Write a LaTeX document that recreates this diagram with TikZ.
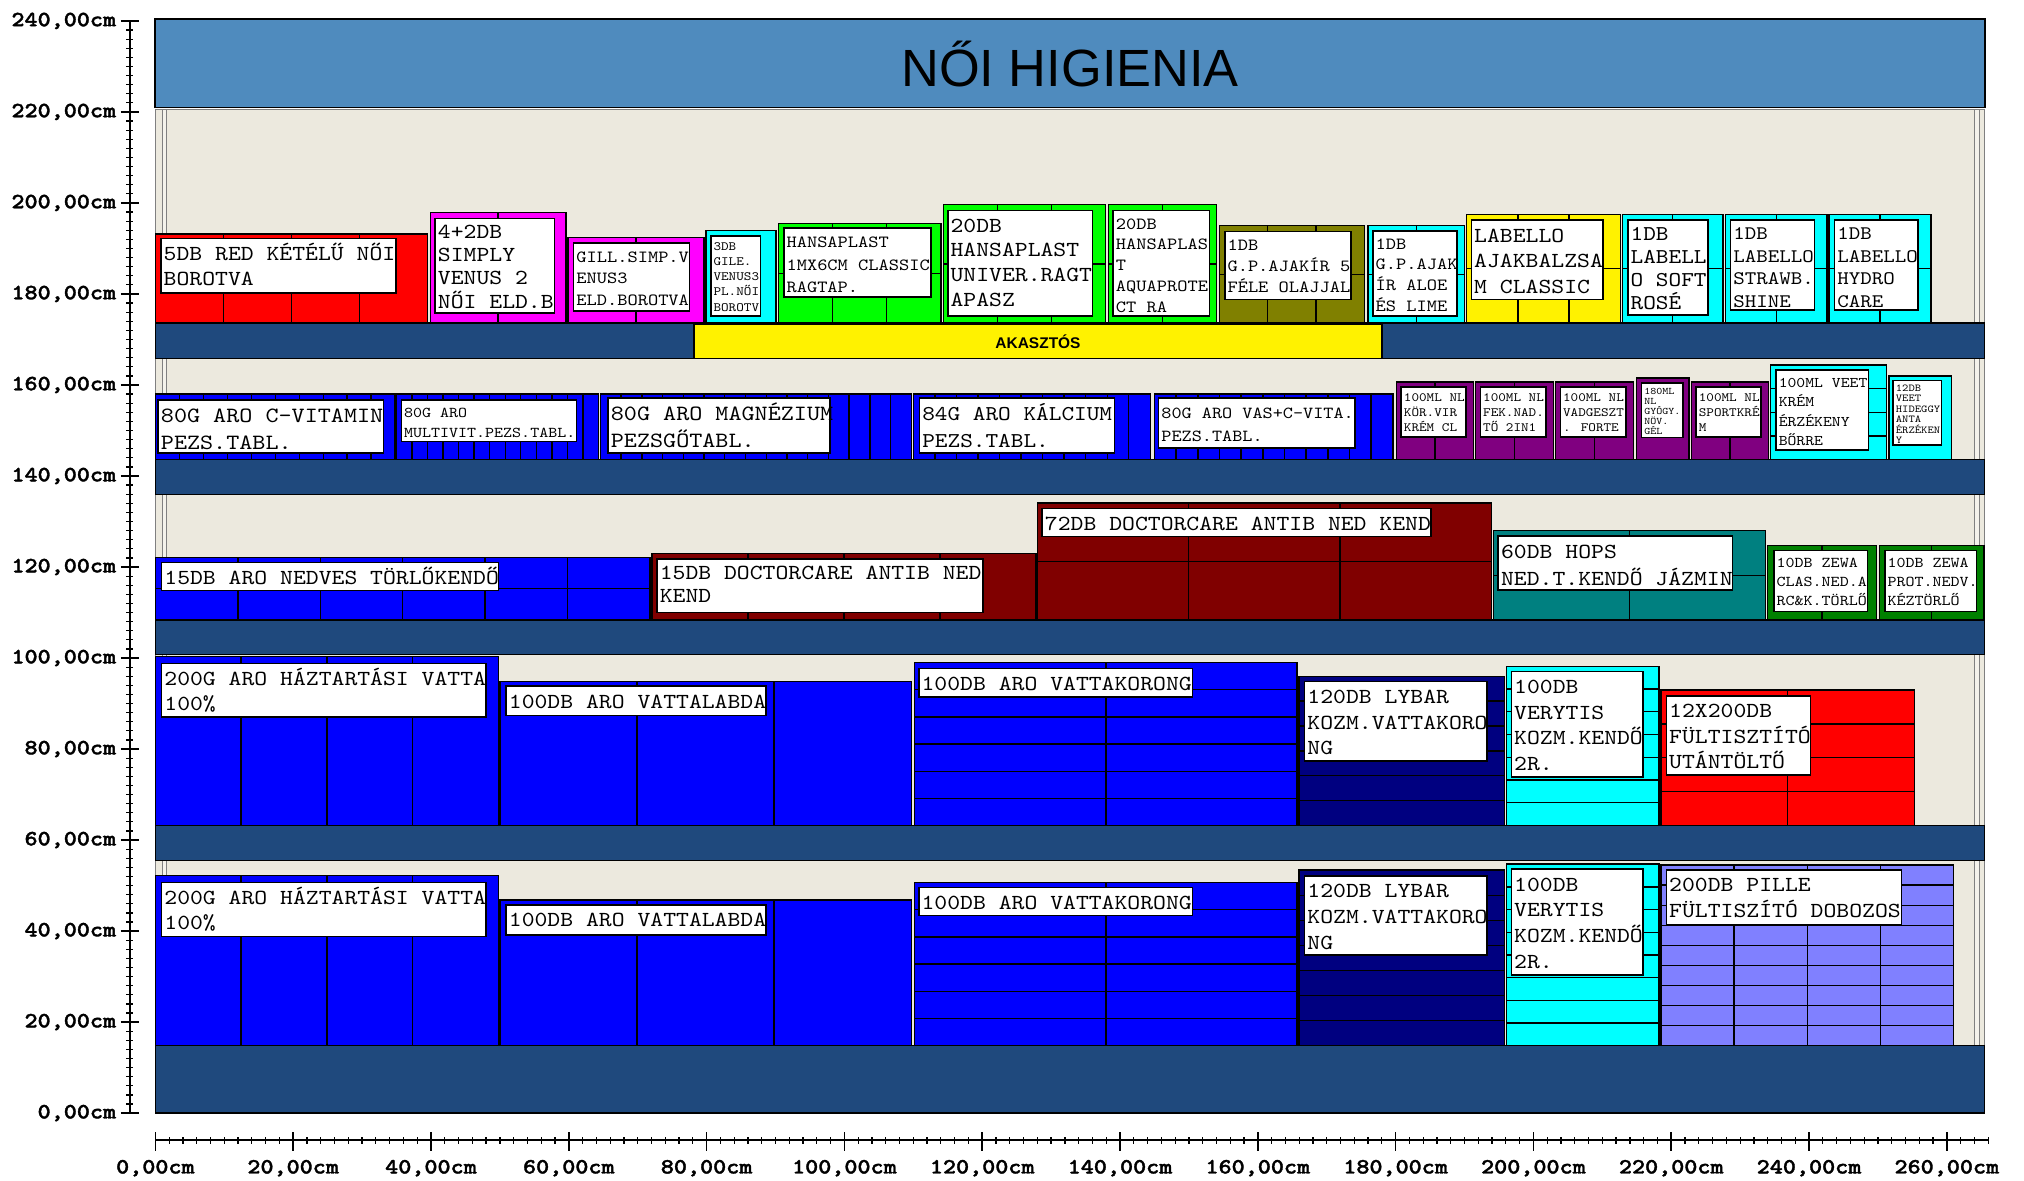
\documentclass[tikz,border=0pt]{standalone}
\usepackage{fontspec}
\usepackage{tikz}

\newfontfamily\lblfont{lmmono10-regular}[Extension=.otf, FakeStretch=1.1429]
\newfontfamily\axfont{lmmonolt10-bold}[Extension=.otf, FakeStretch=1.1429, FakeBold=1.6]
\newfontfamily\sansfont{Liberation Sans}

\definecolor{backboard}{RGB}{236,233,222}
\definecolor{headerblue}{RGB}{79,139,190}
\definecolor{shelfblue}{RGB}{31,73,125}
\definecolor{cyanbox}{RGB}{0,255,255}
\definecolor{magentabox}{RGB}{255,0,255}
\definecolor{olivebox}{RGB}{128,128,0}
\definecolor{maroonbox}{RGB}{128,0,0}
\definecolor{tealbox}{RGB}{0,128,128}
\definecolor{dkgreen}{RGB}{0,128,0}
\definecolor{navybox}{RGB}{0,0,128}
\definecolor{lavender}{RGB}{128,128,255}
\definecolor{purplebox}{RGB}{128,0,128}

% x0, x1, top, base, columns, rows, colour
\newcommand\prodblock[7]{%
  \filldraw[facing, fill=#7] (#1,#4) rectangle (#2,#3);
  \ifnum#5>1
    \foreach \i in {2,...,#5}{\draw[facing] ({#1+(\i-1)*(#2-#1)/#5},#4) -- ({#1+(\i-1)*(#2-#1)/#5},#3);}
  \fi
  \ifnum#6>1
    \foreach \j in {2,...,#6}{\draw[facing] (#1,{#4+(\j-1)*(#3-#4)/#6}) -- (#2,{#4+(\j-1)*(#3-#4)/#6});}
  \fi
}
% name, x0, y0, x1, y1, size, skip, text
\newcommand\prodlabel[8]{%
  \draw[labelbox] (#2,#3) rectangle (#4,#5);
  \node[labeltext, font={\lblfont\fontsize{#6}{#7}\selectfont\lineskiplimit=-10pt}] (#1) at (#2,#5) {\strut #8};
}

\begin{document}
\begin{tikzpicture}[x=0.0689cm, y=0.0455cm,
  facing/.style={draw=black, line width=0.4pt},
  shelf/.style={fill=shelfblue, draw=black, line width=0.4pt},
  upright/.style={fill=backboard!60!white, draw=gray, line width=0.3pt},
  labelbox/.style={fill=white, draw=black, line width=0.45pt},
  labeltext/.style={anchor=north west, inner sep=0pt, xshift=0.6pt, yshift=-0.9pt, align=left},
  axlabel/.style={font=\axfont\fontsize{6.2}{7}\selectfont, inner sep=0pt}]
        \useasboundingbox (-22.55,-14.73) rectangle (271.2,244.6);

        % Gondola
        \filldraw[fill=backboard, draw=gray] (0,14.8) rectangle (265.5,220.5);
        \filldraw[upright] (1,14.8) rectangle (1.6,220.5);
        \filldraw[upright] (264,14.8) rectangle (264.7,220.5);
        \filldraw[fill=headerblue, draw=black, line width=0.5pt] (0,221) rectangle (265.5,240.4);
        \node[font=\sansfont\fontsize{14.9}{16}\selectfont] (title) at (132.75,230.6) {NŐI HIGIENIA};

        % Shelves
        \foreach \lo/\hi in {165.8/173.6, 136/143.6, 100.8/108.4, 55.5/63.2, 0/14.8}{
        \filldraw[shelf] (0,\lo) rectangle (265.5,\hi);
        }
        \filldraw[fill=yellow, draw=black, line width=0.4pt] (78.2,165.8) rectangle (178,173.4);
        \node[font=\sansfont\bfseries\fontsize{4.4}{5}\selectfont] (akasztos) at (128.1,169.5) {AKASZTÓS};

        % Shelf 1
        \prodblock{0}{39.5}{193.2}{173.6}{4}{1}{red}
        \prodblock{39.9}{59.6}{197.9}{173.6}{2}{1}{magentabox}
        \prodblock{59.9}{79.6}{192.4}{173.6}{2}{1}{magentabox}
        \prodblock{79.9}{90.1}{193.9}{173.6}{1}{1}{cyanbox}
        \prodblock{90.4}{114}{195.5}{173.6}{3}{2}{green}
        \prodblock{114.4}{137.9}{199.6}{173.6}{3}{2}{green}
        \prodblock{138.3}{154}{199.6}{173.6}{2}{2}{green}
        \prodblock{154.4}{175.5}{195}{173.6}{3}{2}{olivebox}
        \prodblock{176}{190}{195}{173.6}{2}{2}{cyanbox}
        \prodblock{190.3}{212.6}{197.5}{173.6}{3}{2}{yellow}
        \prodblock{212.9}{227.5}{197.5}{173.6}{2}{2}{cyanbox}
        \prodblock{227.9}{242.6}{197.5}{173.6}{2}{2}{cyanbox}
        \prodblock{242.9}{257.7}{197.5}{173.6}{2}{2}{cyanbox}
        \prodlabel{redblade}{0.8}{180.2}{34.9}{192.2}{6.1}{7.3}{5DB RED KÉTÉLŰ NŐI\\BOROTVA}
        \prodlabel{venus}{40.6}{175.8}{57.9}{196.6}{6.1}{6.6}{4+2DB\\SIMPLY\\VENUS 2\\NŐI ELD.B}
        \prodlabel{gillsimp}{60.7}{176.2}{77.5}{191.2}{4.85}{6.2}{GILL.SIMP.V\\ENUS3\\ELD.BOROTVA}
        \prodlabel{gillvenus}{80.6}{175.2}{87.8}{192.7}{3.6}{4.3}{3DB\\GILE.\\VENUS3\\PL.NŐI\\BOROTV}
        \prodlabel{hansaclassic}{91.2}{179.4}{112.6}{194.5}{4.85}{6.4}{HANSAPLAST\\1MX6CM CLASSIC\\RAGTAP.}
        \prodlabel{hansauniver}{115}{175.2}{136}{198.3}{6.1}{7.1}{20DB\\HANSAPLAST\\UNIVER.RAGT\\APASZ}
        \prodlabel{hansaaqua}{139}{175.2}{153}{198.3}{4.85}{5.9}{20DB\\HANSAPLAS\\T\\AQUAPROTE\\CT RA}
        \prodlabel{gpolaj}{155.2}{178.8}{173.5}{193.7}{4.85}{6.0}{1DB\\G.P.AJAKÍR 5\\FÉLE OLAJJAL}
        \prodlabel{gpaloe}{176.7}{175.2}{188.9}{193.9}{4.85}{5.9}{1DB\\G.P.AJAK\\ÍR ALOE\\ÉS LIME}
        \prodlabel{labclassic}{191}{178.8}{210.1}{196.2}{6.1}{7.3}{LABELLO\\AJAKBALZSA\\M CLASSIC}
        \prodlabel{labrose}{213.7}{175.4}{225.3}{196.2}{6.0}{6.6}{1DB\\LABELL\\O SOFT\\ROSÉ}
        \prodlabel{labstraw}{228.6}{176.5}{240.8}{196.2}{5.45}{6.4}{1DB\\LABELLO\\STRAWB.\\SHINE}
        \prodlabel{labhydro}{243.7}{176.5}{255.8}{196.2}{5.45}{6.4}{1DB\\LABELLO\\HYDRO\\CARE}

        % Shelf 2
        \prodblock{0}{34.8}{158}{143.6}{10}{1}{blue}
        \prodblock{35}{64.3}{158}{143.6}{13}{1}{blue}
        \prodblock{64.6}{109.7}{158}{143.6}{15}{1}{blue}
        \prodblock{110}{144.4}{158}{143.6}{11}{1}{blue}
        \prodblock{145}{179.6}{158}{143.6}{11}{1}{blue}
        \prodblock{180.1}{191.3}{160.7}{143.6}{2}{1}{purplebox}
        \prodblock{191.6}{202.9}{160.7}{143.6}{2}{1}{purplebox}
        \prodblock{203.2}{214.5}{160.7}{143.6}{2}{1}{purplebox}
        \prodblock{215}{222.6}{161.5}{143.6}{1}{1}{purplebox}
        \prodblock{222.9}{234.1}{160.7}{143.6}{2}{1}{purplebox}
        \prodblock{234.4}{251.2}{164.4}{143.6}{1}{4}{cyanbox}
        \prodblock{251.6}{260.7}{162}{143.6}{1}{1}{cyanbox}
        \prodlabel{cvit}{0.4}{145}{33.1}{156.7}{6.2}{7.6}{80G ARO C-VITAMIN\\PEZS.TABL.}
        \prodlabel{multivit}{35.7}{147.6}{61.1}{156.7}{4.27}{5.7}{80G ARO\\MULTIVIT.PEZS.TABL.}
        \prodlabel{magnez}{65.7}{145}{97.9}{157.1}{6.2}{7.6}{80G ARO MAGNÉZIUM\\PEZSGŐTABL.}
        \prodlabel{kalcium}{110.9}{145}{139.2}{157.1}{6.0}{7.6}{84G ARO KÁLCIUM\\PEZS.TABL.}
        \prodlabel{vasc}{145.6}{146.1}{174.1}{157.1}{4.8}{6.6}{80G ARO VAS+C-VITA.\\PEZS.TABL.}
        \prodlabel{nlkor}{180.8}{148.6}{190.2}{159.5}{3.6}{4.3}{100ML NL\\KÖR.VIR\\KRÉM CL}
        \prodlabel{nlfek}{192.3}{148.6}{201.8}{159.5}{3.6}{4.3}{100ML NL\\FEK.NAD.\\TŐ 2IN1}
        \prodlabel{nlvad}{203.9}{148.6}{213.4}{159.5}{3.6}{4.3}{100ML NL\\VADGESZT\\. FORTE}
        \prodlabel{nlgyogy}{215.7}{148.5}{221.7}{160.4}{2.85}{2.85}{180ML\\NL\\GYÓGY.\\NÖV.\\GÉL}
        \prodlabel{nlsport}{223.6}{148.6}{233}{159.5}{3.6}{4.3}{100ML NL\\SPORTKRÉ\\M}
        \prodlabel{veetkrem}{235.2}{145.7}{248.6}{163.3}{4.2}{5.5}{100ML VEET\\KRÉM\\ÉRZÉKENY\\BŐRRE}
        \prodlabel{veetgyanta}{252.2}{146.8}{259.2}{161}{3.0}{2.95}{12DB\\VEET\\HIDEGGY\\ANTA\\ÉRZÉKEN\\Y}

        % Shelf 3
        \prodblock{0}{71.8}{122.1}{108.4}{6}{2}{blue}
        \prodblock{72.1}{127.8}{123}{108.4}{4}{1}{maroonbox}
        \prodblock{128}{193.9}{134.1}{108.4}{3}{2}{maroonbox}
        \prodblock{194.2}{233.7}{128}{108.4}{2}{2}{tealbox}
        \prodblock{234}{249.8}{124.7}{108.4}{2}{1}{dkgreen}
        \prodblock{250.2}{265.4}{124.7}{108.4}{2}{1}{dkgreen}
        \prodlabel{arotorlo}{0.9}{114.8}{49.8}{121}{6.1}{7.3}{15DB ARO NEDVES TÖRLŐKENDŐ}
        \prodlabel{doctor15}{72.8}{110}{120.1}{121.7}{6.1}{6.6}{15DB DOCTORCARE ANTIB NED\\KEND}
        \prodlabel{doctor72}{128.7}{126.7}{185.1}{132.9}{6.1}{7.3}{72DB DOCTORCARE ANTIB NED KEND}
        \prodlabel{hops}{194.9}{115}{228.9}{126.8}{6.1}{7.6}{60DB HOPS\\NED.T.KENDŐ JÁZMIN}
        \prodlabel{zewaclas}{234.9}{110.2}{248.5}{123.6}{4.27}{5.4}{10DB ZEWA\\CLAS.NED.A\\RC\&K.TÖRLŐ}
        \prodlabel{zewaprot}{251}{110.2}{264.3}{123.6}{4.27}{5.4}{10DB ZEWA\\PROT.NEDV.\\KÉZTÖRLŐ}

        % Shelf 4
        \prodblock{0}{49.8}{100.4}{63.2}{4}{1}{blue}
        \prodblock{50}{109.7}{94.9}{63.2}{3}{1}{blue}
        \prodblock{110.2}{165.7}{99}{63.2}{2}{6}{blue}
        \prodblock{166}{195.8}{96}{63.2}{1}{6}{navybox}
        \prodblock{196.1}{218.2}{98.2}{63.2}{1}{7}{cyanbox}
        \prodblock{218.5}{255.3}{93}{63.2}{2}{4}{red}
        \prodlabel{vattaA}{0.9}{87.1}{48}{98.8}{6.1}{7.3}{200G ARO HÁZTARTÁSI VATTA\\100\%}
        \prodlabel{labdaA}{50.9}{87.4}{88.6}{93.8}{6.1}{7.3}{100DB ARO VATTALABDA}
        \prodlabel{korongA}{110.8}{91.5}{150.5}{97.7}{6.1}{7.3}{100DB ARO VATTAKORONG}
        \prodlabel{lybarA}{166.8}{77.4}{193.3}{94.8}{6.1}{7.3}{120DB LYBAR\\KOZM.VATTAKORO\\NG}
        \prodlabel{verytisA}{196.8}{73.8}{215.9}{97}{6.1}{7.3}{100DB\\VERYTIS\\KOZM.KENDŐ\\2R.}
        \prodlabel{fultiszA}{219.3}{74.3}{240.2}{91.7}{6.1}{7.3}{12X200DB\\FÜLTISZTÍTÓ\\UTÁNTÖLTŐ}

        % Bottom shelf
        \prodblock{0}{49.8}{52.2}{14.8}{4}{1}{blue}
        \prodblock{50}{109.7}{46.8}{14.8}{3}{1}{blue}
        \prodblock{110.2}{165.7}{50.7}{14.8}{2}{6}{blue}
        \prodblock{166}{195.8}{53.4}{14.8}{1}{7}{navybox}
        \prodblock{196.1}{218.2}{54.7}{14.8}{1}{8}{cyanbox}
        \prodblock{218.5}{261}{54.5}{14.8}{4}{9}{lavender}
        \prodlabel{vattaB}{0.9}{38.8}{48}{50.7}{6.1}{7.3}{200G ARO HÁZTARTÁSI VATTA\\100\%}
        \prodlabel{labdaB}{50.9}{39.1}{88.6}{45.7}{6.1}{7.3}{100DB ARO VATTALABDA}
        \prodlabel{korongB}{110.8}{43.4}{150.5}{49.6}{6.1}{7.3}{100DB ARO VATTAKORONG}
        \prodlabel{lybarB}{166.8}{34.7}{193.3}{52.1}{6.1}{7.3}{120DB LYBAR\\KOZM.VATTAKORO\\NG}
        \prodlabel{verytisB}{196.8}{30.3}{215.9}{53.6}{6.1}{7.3}{100DB\\VERYTIS\\KOZM.KENDŐ\\2R.}
        \prodlabel{pille}{219.3}{41.3}{253.4}{53.4}{6.1}{7.3}{200DB PILLE\\FÜLTISZÍTÓ DOBOZOS}

        % Axis
        \draw[line width=0.4pt] (-3.7,0) -- (-3.7,240);
        \foreach \v in {0,2,...,240} \draw[line width=0.35pt] (-4.2,\v) -- (-3.2,\v);
        \foreach \v in {0,20,...,240}{
        \draw[line width=0.45pt] (-5,\v) -- (-2.4,\v);
        \node[axlabel, anchor=east] (y\v) at (-5.6,\v) {\v,00cm};
        }
        \draw[line width=0.4pt] (0,-5.9) -- (266,-5.9);
        \foreach \v in {0,2,...,266} \draw[line width=0.35pt] (\v,-5.3) -- (\v,-6.8);
        \foreach \v in {0,20,...,260}{
        \draw[line width=0.45pt] (\v,-4.2) -- (\v,-8.4);
        \node[axlabel] (x\v) at (\v,-12.1) {\v,00cm};
        }
\end{tikzpicture}
\end{document}
